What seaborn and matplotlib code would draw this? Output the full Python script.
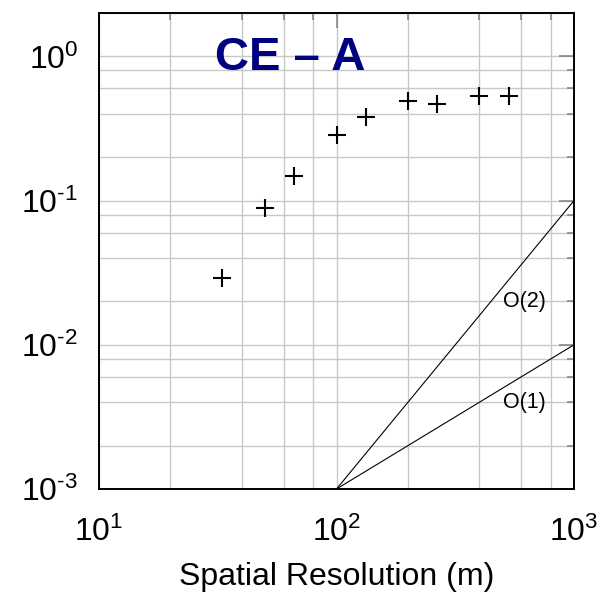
import numpy as np
import pandas as pd
import matplotlib
matplotlib.use("Agg")
import matplotlib.pyplot as plt
import seaborn as sns
from matplotlib.ticker import LogLocator, FuncFormatter, NullFormatter

# Measured error versus spatial resolution
resolution_m = [33, 50, 66, 100, 133, 200, 265, 400, 533]
error = [0.029, 0.089, 0.148, 0.285, 0.38, 0.49, 0.47, 0.53, 0.53]

# Reference convergence slopes, anchored at (100 m, 1e-3)
slope_x = [100, 1000]
order1 = [1e-3, 1e-2]
order2 = [1e-3, 1e-1]

sns.set_theme(style="white")
plt.rcParams['font.family'] = ['Liberation Sans', 'DejaVu Sans']
plt.rcParams['mathtext.fontset'] = 'custom'
plt.rcParams['mathtext.rm'] = 'Liberation Sans'
plt.rcParams['mathtext.it'] = 'Liberation Sans:italic'
plt.rcParams['mathtext.bf'] = 'Liberation Sans:bold'

fig = plt.figure(figsize=(6.13, 5.95), dpi=100)
ax = fig.add_axes([99 / 613, 1 - 489 / 595, 475 / 613, 476 / 595])

points = pd.DataFrame({"resolution": resolution_m, "error": error})
slopes = pd.DataFrame({
    "resolution": slope_x * 2,
    "error": order1 + order2,
    "order": ["O(1)"] * 2 + ["O(2)"] * 2,
})

sns.lineplot(data=slopes, x="resolution", y="error", units="order",
             estimator=None, color="black", lw=0.8, ax=ax, zorder=3)
sns.scatterplot(data=points, x="resolution", y="error", marker="+",
                s=150, color="black", linewidth=1.5, ax=ax, zorder=4)

ax.set_xscale("log")
ax.set_yscale("log")
ax.set_xlim(10, 1000)
ax.set_ylim(1e-3, 2)


def power_label(v, pos):
    exp = int(round(np.log10(v)))
    sup = r"\text{-}%d" % abs(exp) if exp < 0 else "%d" % exp
    return r"$\mathregular{10^{%s}}$" % sup


ax.xaxis.set_major_locator(LogLocator(base=10, numticks=10))
ax.yaxis.set_major_locator(LogLocator(base=10, numticks=10))
ax.xaxis.set_minor_locator(LogLocator(base=10, subs=[2, 4, 6, 8], numticks=20))
ax.yaxis.set_minor_locator(LogLocator(base=10, subs=[2, 4, 6, 8], numticks=20))
ax.xaxis.set_major_formatter(FuncFormatter(power_label))
ax.yaxis.set_major_formatter(FuncFormatter(power_label))
ax.xaxis.set_minor_formatter(NullFormatter())
ax.yaxis.set_minor_formatter(NullFormatter())

ax.grid(True, which="both", color="#c8c8c8", lw=1.0, zorder=0)
ax.set_axisbelow(True)

ax.tick_params(which="both", direction="in", top=True, right=True,
               color="#808080", width=1.1, labelsize=23, labelcolor="black")
ax.tick_params(which="major", length=11)
ax.tick_params(which="minor", length=5)
ax.tick_params(axis="y", pad=15)
ax.tick_params(axis="x", pad=20)

for sp in ax.spines.values():
    sp.set_color("black")
    sp.set_linewidth(1.4)

ax.set_xlabel("Spatial Resolution (m)", fontsize=23, labelpad=10, color="black")
ax.set_ylabel("")

ax.text(0.402, 0.905, "CE \u2013 A", transform=ax.transAxes, ha="center",
        va="center", fontsize=34, fontweight="bold", color="#000080")
ax.text(500, 0.02, "O(2)", fontsize=15.5, ha="left", va="center", color="black")
ax.text(500, 0.004, "O(1)", fontsize=15.5, ha="left", va="center", color="black")

fig.savefig("out.png", dpi=100, facecolor="white")
